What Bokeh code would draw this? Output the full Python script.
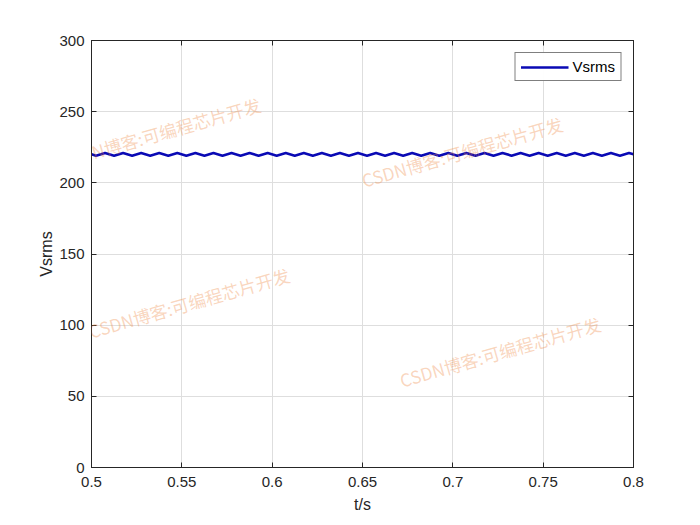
import numpy as np
from bokeh.plotting import figure
from bokeh.models import LinearAxis, FixedTicker, Label, Range1d, Legend, LegendItem
from bokeh.embed import file_html
from bokeh.resources import INLINE

# ---------------- data ----------------
t_s = [0.5,
       0.5025, 0.5075, 0.5125, 0.5175, 0.5225, 0.5275, 0.5325, 0.5375, 0.5425, 0.5475,
       0.5525, 0.5575, 0.5625, 0.5675, 0.5725, 0.5775, 0.5825, 0.5875, 0.5925, 0.5975,
       0.6025, 0.6075, 0.6125, 0.6175, 0.6225, 0.6275, 0.6325, 0.6375, 0.6425, 0.6475,
       0.6525, 0.6575, 0.6625, 0.6675, 0.6725, 0.6775, 0.6825, 0.6875, 0.6925, 0.6975,
       0.7025, 0.7075, 0.7125, 0.7175, 0.7225, 0.7275, 0.7325, 0.7375, 0.7425, 0.7475,
       0.7525, 0.7575, 0.7625, 0.7675, 0.7725, 0.7775, 0.7825, 0.7875, 0.7925, 0.7975,
       0.8]
vsrms = [220.0,
         219.1, 220.9, 219.1, 220.9, 219.1, 220.9, 219.1, 220.9, 219.1, 220.9,
         219.1, 220.9, 219.1, 220.9, 219.1, 220.9, 219.1, 220.9, 219.1, 220.9,
         219.1, 220.9, 219.1, 220.9, 219.1, 220.9, 219.1, 220.9, 219.1, 220.9,
         219.1, 220.9, 219.1, 220.9, 219.1, 220.9, 219.1, 220.9, 219.1, 220.9,
         219.1, 220.9, 219.1, 220.9, 219.1, 220.9, 219.1, 220.9, 219.1, 220.9,
         219.1, 220.9, 219.1, 220.9, 219.1, 220.9, 219.1, 220.9, 219.1, 220.9,
         220.0]

x_ticks = [0.5, 0.55, 0.6, 0.65, 0.7, 0.75, 0.8]
x_tick_labels = ["0.5", "0.55", "0.6", "0.65", "0.7", "0.75", "0.8"]
y_ticks = [0, 50, 100, 150, 200, 250, 300]
y_tick_labels = ["0", "50", "100", "150", "200", "250", "300"]
series_name = "Vsrms"
x_label = "t/s"
y_label = "Vsrms"
watermark_text = "CSDN博客:可编程芯片开发"

# ---------------- styling ----------------
FONT = "Liberation Sans"
DARK = "#262626"
LINE_COLOR = "#0a0ab4"

p = figure(width=700, height=525, output_backend="svg", toolbar_location=None,
           x_range=Range1d(0.5, 0.8), y_range=Range1d(0, 300),
           min_border_left=91, min_border_right=67, min_border_top=40, min_border_bottom=58)
p.background_fill_color = "white"
p.border_fill_color = "white"
p.outline_line_color = DARK
p.outline_line_width = 1

r = p.line(t_s, vsrms, line_color=LINE_COLOR, line_width=2.6, line_join="round")

bottom_ax = p.below[0]
left_ax = p.left[0]

xt = FixedTicker(ticks=x_ticks)
yt = FixedTicker(ticks=y_ticks)
bottom_ax.ticker = xt
left_ax.ticker = yt
bottom_ax.major_label_overrides = {v: l for v, l in zip(x_ticks, x_tick_labels)}
left_ax.major_label_overrides = {v: l for v, l in zip(y_ticks, y_tick_labels)}

p.xgrid.ticker = xt
p.ygrid.ticker = yt
p.grid.grid_line_color = "#dedede"
p.grid.grid_line_width = 1

# mirrored box ticks (MATLAB "box on"), no labels
top_ax = LinearAxis(ticker=xt, major_label_overrides={v: "" for v in x_ticks})
right_ax = LinearAxis(ticker=yt, major_label_overrides={v: "" for v in y_ticks})
p.add_layout(top_ax, "above")
p.add_layout(right_ax, "right")

for ax in [bottom_ax, left_ax, top_ax, right_ax]:
    ax.axis_line_color = DARK
    ax.major_tick_line_color = DARK
    ax.major_tick_in = 5
    ax.major_tick_out = 0
    ax.minor_tick_line_color = None
    ax.major_label_text_font = FONT
    ax.major_label_text_font_size = "15px"
    ax.major_label_text_color = DARK
    ax.axis_label_text_font = FONT
    ax.axis_label_text_font_size = "16px"
    ax.axis_label_text_font_style = "normal"
    ax.axis_label_text_color = DARK

for ax in [top_ax, right_ax]:
    ax.major_label_standoff = 0

bottom_ax.axis_label = x_label
left_ax.axis_label = y_label
bottom_ax.major_label_standoff = 9
bottom_ax.axis_label_standoff = 6
left_ax.major_label_standoff = 7
left_ax.axis_label_standoff = 1

legend = Legend(items=[LegendItem(label=series_name, renderers=[r])],
                location="top_right")
legend.margin = 12
legend.padding = 5
legend.glyph_width = 48
legend.glyph_height = 14
legend.label_height = 14
legend.label_standoff = 4
legend.label_text_font = FONT
legend.label_text_font_size = "15px"
legend.label_text_color = "black"
legend.border_line_color = "black"
legend.border_line_width = 1
legend.background_fill_color = "white"
p.add_layout(legend, "center")

# watermarks
wm_positions = [(0.4845, 206.6), (0.6517, 193.2), (0.5006, 87.1), (0.6727, 52.7)]
for wx, wy in wm_positions:
    p.add_layout(Label(x=wx, y=wy, text=watermark_text, angle=0.279,
                       text_align="left", text_baseline="bottom",
                       text_font="Noto Sans CJK SC", text_font_size="17.5px",
                       text_color="#ee8844", text_alpha=0.35, level="overlay"))

open("out.html", "w").write(file_html(p, INLINE))
